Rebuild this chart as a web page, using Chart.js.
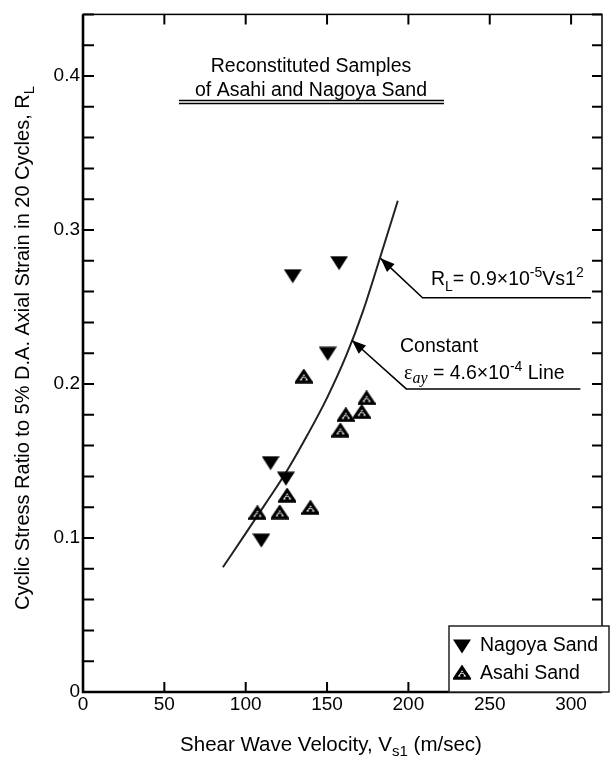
<!DOCTYPE html>
<html>
<head>
<meta charset="utf-8">
<script src="https://cdn.jsdelivr.net/npm/chart.js@4.4.1/dist/chart.umd.min.js"></script>
<style>
  html, body { margin: 0; padding: 0; background: #fff; }
  #wrap { width: 612px; height: 757px; }
</style>
</head>
<body>
<div id="wrap"><canvas id="chart" width="612" height="757"></canvas></div>
<script>
// values
var nagoyaVs = [128.9, 157.4, 150.4, 115.3, 124.7, 109.6];
var nagoyaRL = [0.270, 0.2785, 0.2196, 0.1486, 0.1385, 0.0983];

var asahiVs = [135.7, 174.3, 171.3, 161.5, 158.2, 125.5, 107.2, 120.9, 139.8];
var asahiRL = [0.205, 0.191, 0.182, 0.180, 0.170, 0.1277, 0.1164, 0.1168, 0.1198];

var curveVs = [86, 100, 112, 125, 138, 150, 162, 172, 182, 193.5];
var curveRL = [0.081, 0.103, 0.122, 0.143, 0.167, 0.191, 0.219, 0.247, 0.280, 0.319];

var xTicks = [0, 50, 100, 150, 200, 250, 300];
var yTickLabels = [0, 0.1, 0.2, 0.3, 0.4];

var FONT = '"Liberation Sans", Arial, sans-serif';

function pts(xs, ys) {
    return xs.map(function (x, i) { return { x: x, y: ys[i] }; });
}

// markers
function nagoyaMarker() {
    var c = document.createElement('canvas');
    c.width = 18; c.height = 15;
    var g = c.getContext('2d');
    g.fillStyle = '#000';
    g.beginPath();
    g.moveTo(0, 0.5); g.lineTo(18, 0.5); g.lineTo(9, 14.5);
    g.closePath(); g.fill();
    return c;
}
function asahiMarker() {
    var c = document.createElement('canvas');
    c.width = 18; c.height = 15;
    var g = c.getContext('2d');
    g.strokeStyle = '#000';
    g.lineWidth = 3.2;
    g.lineJoin = 'miter';
    g.beginPath();
    g.moveTo(9, 2.4); g.lineTo(16.2, 13.2); g.lineTo(1.8, 13.2);
    g.closePath(); g.stroke();
    g.fillStyle = '#000';
    g.beginPath();
    g.arc(9, 10.4, 1.9, 0, Math.PI * 2); g.fill();
    g.lineWidth = 1;
    g.beginPath();
    g.arc(9, 10.8, 3.4, Math.PI * 1.1, Math.PI * 1.9); g.stroke();
    return c;
}
var nagoyaImg = nagoyaMarker();
var asahiImg = asahiMarker();

// text with sub/superscripts: parts = [text, size, dy, style, family]
function rich(ctx, x, y, parts, align) {
    var w = 0;
    parts.forEach(function (p) {
        ctx.font = (p[3] || '') + ' ' + p[1] + 'px ' + (p[4] || FONT);
        w += ctx.measureText(p[0]).width;
    });
    var cx = align === 'center' ? x - w / 2 : x;
    ctx.textAlign = 'left';
    ctx.textBaseline = 'alphabetic';
    parts.forEach(function (p) {
        ctx.font = (p[3] || '') + ' ' + p[1] + 'px ' + (p[4] || FONT);
        ctx.fillText(p[0], cx, y + p[2]);
        cx += ctx.measureText(p[0]).width;
    });
}

function arrow(ctx, xs, ys, tip, elbow, end) {
    var tx = xs.getPixelForValue(tip[0]), ty = ys.getPixelForValue(tip[1]);
    var ex = xs.getPixelForValue(elbow[0]), ey = ys.getPixelForValue(elbow[1]);
    var fx = xs.getPixelForValue(end[0]);
    ctx.strokeStyle = '#000';
    ctx.lineWidth = 1.5;
    ctx.beginPath();
    ctx.moveTo(fx, ey); ctx.lineTo(ex, ey); ctx.lineTo(tx, ty);
    ctx.stroke();
    var a = Math.atan2(ty - ey, tx - ex);
    var L = 14, W = 5.5;
    ctx.fillStyle = '#000';
    ctx.beginPath();
    ctx.moveTo(tx, ty);
    ctx.lineTo(tx - L * Math.cos(a) + W * Math.sin(a), ty - L * Math.sin(a) - W * Math.cos(a));
    ctx.lineTo(tx - L * Math.cos(a) - W * Math.sin(a), ty - L * Math.sin(a) + W * Math.cos(a));
    ctx.closePath(); ctx.fill();
}

var decor = {
    id: 'decor',
    afterDraw: function (chart) {
        var ctx = chart.ctx, a = chart.chartArea;
        var xs = chart.scales.x, ys = chart.scales.y;
        ctx.save();

        // frame
        ctx.strokeStyle = '#000';
        ctx.lineWidth = 1.5;
        ctx.strokeRect(a.left, a.top, a.right - a.left, a.bottom - a.top);
        ctx.lineWidth = 2.6;
        ctx.beginPath();
        ctx.moveTo(a.left, a.top); ctx.lineTo(a.left, a.bottom); ctx.lineTo(a.right, a.bottom);
        ctx.stroke();

        // inward ticks
        ctx.lineWidth = 2;
        xs.ticks.forEach(function (t) {
            if (t.value === 0) return;
            var px = xs.getPixelForValue(t.value);
            ctx.beginPath();
            ctx.moveTo(px, a.bottom); ctx.lineTo(px, a.bottom - 10);
            ctx.moveTo(px, a.top); ctx.lineTo(px, a.top + 10);
            ctx.stroke();
        });
        ys.ticks.forEach(function (t) {
            if (t.value === 0) return;
            var py = ys.getPixelForValue(t.value);
            ctx.beginPath();
            ctx.moveTo(a.left, py); ctx.lineTo(a.left + 11, py);
            ctx.moveTo(a.right, py); ctx.lineTo(a.right - 10, py);
            ctx.stroke();
        });

        // title block
        ctx.fillStyle = '#000';
        rich(ctx, 311, 72, [['Reconstituted Samples', 19.5, 0]], 'center');
        rich(ctx, 311, 96, [['of Asahi and Nagoya Sand', 19.5, 0]], 'center');
        ctx.lineWidth = 1.5;
        ctx.beginPath();
        ctx.moveTo(179, 100.5); ctx.lineTo(444, 100.5);
        ctx.moveTo(179, 103.5); ctx.lineTo(444, 103.5);
        ctx.stroke();

        // annotations
        arrow(ctx, xs, ys, [182.9, 0.2816], [208.7, 0.256], [312.2, 0.256]);
        arrow(ctx, xs, ys, [165.3, 0.2284], [198.7, 0.1968], [305.7, 0.1968]);
        rich(ctx, 431, 285, [
            ['R', 19.5, 0], ['L', 14, 6], ['= 0.9\u00d710', 19.5, 0], ['-5', 14, -8],
            ['Vs1', 19.5, 0], ['2', 14, -8]
        ]);
        rich(ctx, 400, 352, [['Constant', 19.5, 0]]);
        rich(ctx, 404, 379, [
            ['\u03b5', 20, 0, '', '"Liberation Serif", serif'],
            ['ay', 16, 4, 'italic', '"Liberation Serif", serif'],
            [' = 4.6\u00d710', 19.5, 0], ['-4', 14, -8], [' Line', 19.5, 0]
        ]);

        // axis titles
        rich(ctx, 331, 751, [
            ['Shear Wave Velocity, V', 20.5, 0], ['s1', 15, 5], [' (m/sec)', 20.5, 0]
        ], 'center');
        ctx.save();
        ctx.translate(29, 348);
        ctx.rotate(-Math.PI / 2);
        rich(ctx, 0, 0, [
            ['Cyclic Stress Ratio to 5% D.A. Axial Strain in 20 Cycles, R', 20, 0], ['L', 15, 5]
        ], 'center');
        ctx.restore();

        // legend
        var lx = 449, ly = 626, lw = 160, lh = a.bottom - 626;
        ctx.fillStyle = '#fff';
        ctx.fillRect(lx, ly, lw, lh);
        ctx.strokeStyle = '#222';
        ctx.lineWidth = 1.5;
        ctx.strokeRect(lx, ly, lw, lh);
        ctx.drawImage(nagoyaImg, 462 - 9, 646 - 7);
        ctx.drawImage(asahiImg, 462 - 9, 672 - 7);
        ctx.fillStyle = '#000';
        rich(ctx, 480, 651, [[chart.data.datasets[0].label, 19.5, 0]]);
        rich(ctx, 480, 679, [[chart.data.datasets[1].label, 19.5, 0]]);

        ctx.restore();
    }
};

var ctx = document.getElementById('chart');
new Chart(ctx, {
    type: 'scatter',
    data: {
        datasets: [{
            label: 'Nagoya Sand',
            data: pts(nagoyaVs, nagoyaRL),
            pointStyle: nagoyaImg,
            pointRadius: 9
        }, {
            label: 'Asahi Sand',
            data: pts(asahiVs, asahiRL),
            pointStyle: asahiImg,
            pointRadius: 9
        }, {
            type: 'line',
            label: 'curve',
            data: pts(curveVs, curveRL),
            borderColor: '#222',
            borderWidth: 2,
            pointRadius: 0,
            fill: false,
            cubicInterpolationMode: 'monotone'
        }]
    },
    options: {
        responsive: false,
        animation: false,
        layout: { padding: { top: 9, right: 0, left: 0, bottom: 0 } },
        plugins: {
            legend: { display: false },
            tooltip: { enabled: false }
        },
        scales: {
            x: {
                type: 'linear',
                min: 0,
                max: 319,
                afterFit: function (s) { s.height = 65; },
                grid: { display: false, drawTicks: false },
                border: { display: false },
                ticks: {
                    stepSize: 50,
                    includeBounds: false,
                    padding: 1,
                    color: '#000',
                    font: { family: FONT, size: 19 },
                    maxRotation: 0,
                    callback: function (v) { return xTicks.indexOf(v) >= 0 ? String(v) : ''; }
                }
            },
            y: {
                type: 'linear',
                min: 0,
                max: 0.44,
                afterFit: function (s) { s.width = 83; },
                grid: { display: false, drawTicks: false },
                border: { display: false },
                ticks: {
                    stepSize: 0.02,
                    includeBounds: false,
                    padding: 3,
                    color: '#000',
                    font: { family: FONT, size: 19 },
                    callback: function (v) {
                        for (var i = 0; i < yTickLabels.length; i++) {
                            if (Math.abs(v - yTickLabels[i]) < 1e-6) return String(yTickLabels[i]);
                        }
                        return '';
                    }
                }
            }
        }
    },
    plugins: [decor]
});
</script>
</body>
</html>
